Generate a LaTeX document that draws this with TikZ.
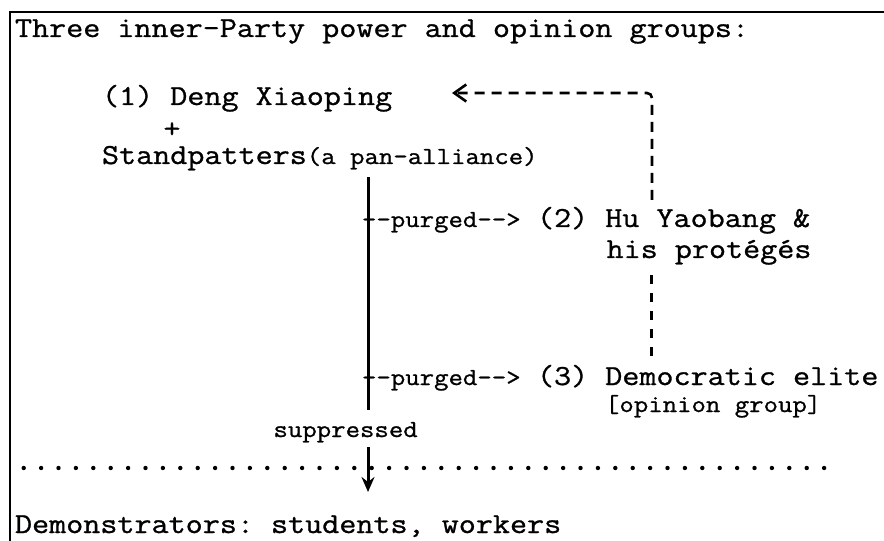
\documentclass[tikz,border=0pt]{standalone}
\usepackage{fontspec}
\setmonofont{Latin Modern Mono}[FakeStretch=1.143, FakeBold=1.0]
\usetikzlibrary{arrows.meta}
\newcommand\bigtype{\ttfamily\fontsize{29bp}{34bp}\selectfont}
\newcommand\smalltype{\ttfamily\fontsize{24.5bp}{28bp}\selectfont}
\begin{document}
\begin{tikzpicture}[x=1bp,y=-1bp,
  txt/.style={inner sep=0pt, outer sep=0pt, anchor=base west, font=\bigtype},
  note/.style={txt, font=\smalltype},
  frame/.style={line width=2.5bp},
  trunk/.style={line width=3bp},
  hint/.style={line width=2.6bp, dash pattern=on 10bp off 7bp},
  hintv/.style={line width=3bp, dash pattern=on 9bp off 9bp},
  dotrule/.style={line width=4.4bp, line cap=round, dash pattern=on 0bp off 17.4bp}]
\useasboundingbox (0,0) rectangle (884,541);

% frame: top and left rules only
\coordinate (fTL) at (10,12);
\coordinate (fTR) at (884,12);
\coordinate (fBL) at (10,541);
\draw[frame] (fTR) -- (fTL) -- (fBL);

% texts
\node[txt] (title) at (15,37) {Three inner-Party power and opinion groups:};
\node[txt] (deng) at (102,105) {(1) Deng Xiaoping};
\node[txt, anchor=center] (plus) at (172,130) {+};
\node[txt] (stand) at (102,164) {Standpatters{\smalltype(a pan-alliance)}};
\node[note] (purgeA) at (362,227) {--purged-->};
\node[txt] (hu) at (537,227) {(2) Hu Yaobang \&};
\node[txt] (prot) at (606.6,258) {his protégés};
\node[note] (purgeB) at (362,385) {--purged-->};
\node[txt] (dem) at (537,385) {(3) Democratic elite};
\node[note] (opin) at (605,412) {[opinion group]};
\node[note] (supp) at (273.5,437) {suppressed};
\node[txt] (demo) at (15,533) {Demonstrators: students, workers};

% main trunk and the suppression arrow
\coordinate (tTop) at (368,177);
\coordinate (tBot) at (368,410);
\draw[trunk] (tTop) -- (tBot);
\coordinate (aTop) at (368,447);
\coordinate (aTip) at (368,492);
\draw[trunk, -{Stealth[length=15bp,width=13bp,inset=5bp]}] (aTop) -- (aTip);

% dotted separator
\coordinate (dL) at (23.7,468);
\coordinate (dR) at (826,468);
\draw[dotrule] (dL) -- (dR);

% dashed links on the right
\coordinate (huTop) at (652,200);
\coordinate (bend) at (652,93);
\coordinate (dengTip) at (452,93);
\draw[hint, rounded corners=5bp, -{Straight Barb[length=12bp,width=17bp]}]
  (huTop) -- (bend) -- (dengTip);
\coordinate (huBot) at (651,275);
\coordinate (demTop) at (651,356);
\draw[hintv] (huBot) -- (demTop);
\end{tikzpicture}
\end{document}
